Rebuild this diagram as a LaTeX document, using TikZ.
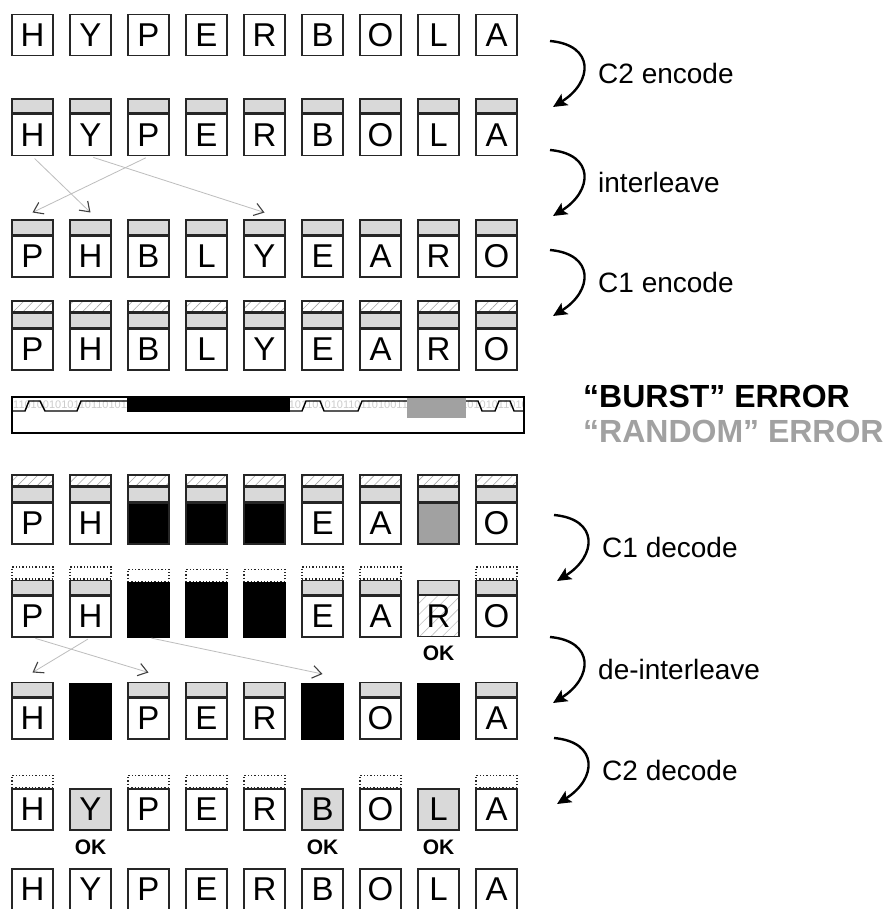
\documentclass[tikz,border=0pt]{standalone}
\usepackage{fontspec}
\setmainfont{Liberation Sans}
\usepackage{xcolor}
\usetikzlibrary{arrows.meta, patterns.meta}

\definecolor{parity}{gray}{0.85}
\definecolor{lineg}{gray}{0.74}
\definecolor{randg}{gray}{0.63}
\definecolor{bitg}{gray}{0.80}

\tikzset{
  cell/.style={draw=black!85, line width=1.5pt, minimum width=41pt, minimum height=41pt,
    inner sep=0pt, anchor=north, font=\fontsize{33}{33}\selectfont},
  pbar/.style={draw=black!85, line width=1.5pt, fill=parity, minimum width=41pt,
    minimum height=14pt, inner sep=0pt, anchor=south},
  hbar/.style={draw=black!85, line width=1.5pt, minimum width=41pt, minimum height=11pt,
    inner sep=0pt, anchor=south, pattern={Lines[angle=45,distance=7pt,line width=0.6pt]},
    pattern color=black!35},
  dbar/.style={draw=black!85, line width=1.3pt, dotted, minimum width=41pt,
    minimum height=12pt, inner sep=0pt, anchor=south},
  hole/.style={fill=black, draw=black, line width=1.5pt, minimum width=41pt,
    inner sep=0pt, anchor=north},
  move/.style={draw=lineg, line width=0.8pt, shorten <=3pt,
    -{Straight Barb[angle=70:11pt, color=black!75, line width=1.1pt]}},
  turn/.style={line width=2.4pt, -{Stealth[length=14pt,width=13pt,inset=3pt]}},
  lab/.style={anchor=west, inner sep=0pt, font=\fontsize{28}{28}\selectfont},
  err/.style={anchor=base west, inner sep=0pt, font=\bfseries\fontsize{32}{32}\selectfont},
  ok/.style={inner sep=0pt, font=\bfseries\fontsize{21}{21}\selectfont}
}

\begin{document}
\begin{tikzpicture}[x=1pt, y=-1pt]
  \fill[white] (0,0) rectangle (895,909);
  \useasboundingbox (0,0) rectangle (895,909);
  % Data
  \foreach \l [count=\i] in {H,Y,P,E,R,B,O,L,A}
    \node[cell] (r1c\i) at ({32.5+58*(\i-1)},14) {\l};
  % C2 encode
  \foreach \l [count=\i] in {H,Y,P,E,R,B,O,L,A} {
    \node[cell] (r2c\i) at ({32.5+58*(\i-1)},114) {\l};
    \node[pbar] (p2c\i) at (r2c\i.north) {};
  }
  % Interleave
  \foreach \l [count=\i] in {P,H,B,L,Y,E,A,R,O} {
    \node[cell] (r3c\i) at ({32.5+58*(\i-1)},235) {\l};
    \node[pbar] (p3c\i) at (r3c\i.north) {};
  }
  \draw[move] (r2c1.south) -- ([yshift=7pt]p3c2.north);
  \draw[move] (r2c2.south) -- ([yshift=7pt]p3c5.north);
  \draw[move] (r2c3.south) -- ([yshift=7pt]p3c1.north);
  % C1 encode
  \foreach \l [count=\i] in {P,H,B,L,Y,E,A,R,O} {
    \node[cell] (r4c\i) at ({32.5+58*(\i-1)},328) {\l};
    \node[pbar] (p4c\i) at (r4c\i.north) {};
    \node[hbar] (h4c\i) at (p4c\i.north) {};
  }
  % Tape
  \begin{scope}
    \clip (12,397) rectangle (524,412);
    \node[anchor=west, inner sep=0pt, text=bitg, font=\fontsize{11}{11}\selectfont] (bits) at (13,405)
      {110100101011011010110100101010110110101101001010110101011011010011010101101101010110100101101};
  \end{scope}
  \draw[line width=1.4pt] (12,411) -- (25,411) -- (29,401) -- (40,401) -- (45,411) -- (77,411)
    -- (81,401) -- (127,401);
  \draw[line width=1.4pt] (290,411) -- (302,411) -- (306,401) -- (320,401) -- (324,411) -- (358,411)
    -- (362,401) -- (407,401);
  \draw[line width=1.4pt] (466,401) -- (478,401) -- (482,411) -- (495,411) -- (499,401) -- (510,401)
    -- (514,411) -- (524,411);
  \fill[black] (127,397) rectangle (290,412);
  \fill[randg] (407,397) rectangle (466,418);
  \draw[line width=1.5pt] (12,397) rectangle (524,433);
  \node[err] (burst) at (583,407) {“BURST” ERROR};
  \node[err, text=randg] (random) at (583,442) {“RANDOM” ERROR};
  % Received
  \foreach \i/\l in {1/P,2/H,6/E,7/A,9/O}
    \node[cell] (r5c\i) at ({32.5+58*(\i-1)},502) {\l};
  \foreach \i in {3,4,5}
    \node[cell, fill=black] (r5c\i) at ({32.5+58*(\i-1)},502) {};
  \node[cell, fill=randg] (r5c8) at ({32.5+58*7},502) {};
  \foreach \i in {1,...,9} {
    \node[pbar] (p5c\i) at (r5c\i.north) {};
    \node[hbar] (h5c\i) at (p5c\i.north) {};
  }
  % C1 decode
  \foreach \i/\l in {1/P,2/H,6/E,7/A,9/O} {
    \node[cell] (r6c\i) at ({32.5+58*(\i-1)},595) {\l};
    \node[pbar] (p6c\i) at (r6c\i.north) {};
    \node[dbar] (d6c\i) at (p6c\i.north) {};
  }
  \foreach \i in {3,4,5} {
    \node[hole, minimum height=54pt] (r6c\i) at ({32.5+58*(\i-1)},582) {};
    \node[dbar] (d6c\i) at (r6c\i.north) {};
  }
  \node[cell, pattern={Lines[angle=45,distance=8pt,line width=0.6pt]}, pattern color=black!25]
    (r6c8) at ({32.5+58*7},595) {R};
  \node[pbar] (p6c8) at (r6c8.north) {};
  \node[ok] (ok6) at ({32.5+58*7},653) {OK};
  % De-interleave
  \foreach \i/\l in {1/H,3/P,4/E,5/R,7/O,9/A} {
    \node[cell] (r7c\i) at ({32.5+58*(\i-1)},697) {\l};
    \node[pbar] (p7c\i) at (r7c\i.north) {};
  }
  \foreach \i in {2,6,8}
    \node[hole, minimum height=55pt] (r7c\i) at ({32.5+58*(\i-1)},683) {};
  \draw[move] (r6c1.south) -- ([yshift=9pt]p7c3.north);
  \draw[move] (r6c2.south) -- ([yshift=9pt]p7c1.north);
  \draw[move] (r6c3.south) -- ([yshift=9pt]r7c6.north);
  % C2 decode
  \foreach \i/\l in {1/H,3/P,4/E,5/R,7/O,9/A} {
    \node[cell] (r8c\i) at ({32.5+58*(\i-1)},788) {\l};
    \node[dbar] (d8c\i) at (r8c\i.north) {};
  }
  \foreach \i/\l in {2/Y,6/B,8/L} {
    \node[cell, fill=parity] (r8c\i) at ({32.5+58*(\i-1)},788) {\l};
    \node[ok] (ok8c\i) at ({32.5+58*(\i-1)},847) {OK};
  }
  % Output
  \foreach \l [count=\i] in {H,Y,P,E,R,B,O,L,A}
    \node[cell] (r9c\i) at ({32.5+58*(\i-1)},868) {\l};
  % Steps
  \foreach \dx/\y/\t [count=\k] in {0/41/C2 encode, 0/150/interleave, 0/250/C1 encode,
      4/515/C1 decode, 0/637/de-interleave, 4/738/C2 decode} {
    \coordinate (t\k a) at (550+\dx,\y);
    \coordinate (t\k b) at (553+\dx,\y+66);
    \draw[turn] (t\k a) .. controls +(45,4) and +(40,-25) .. (t\k b);
    \node[lab] (l\k) at (598+\dx,\y+32) {\t};
  }
\end{tikzpicture}
\end{document}
